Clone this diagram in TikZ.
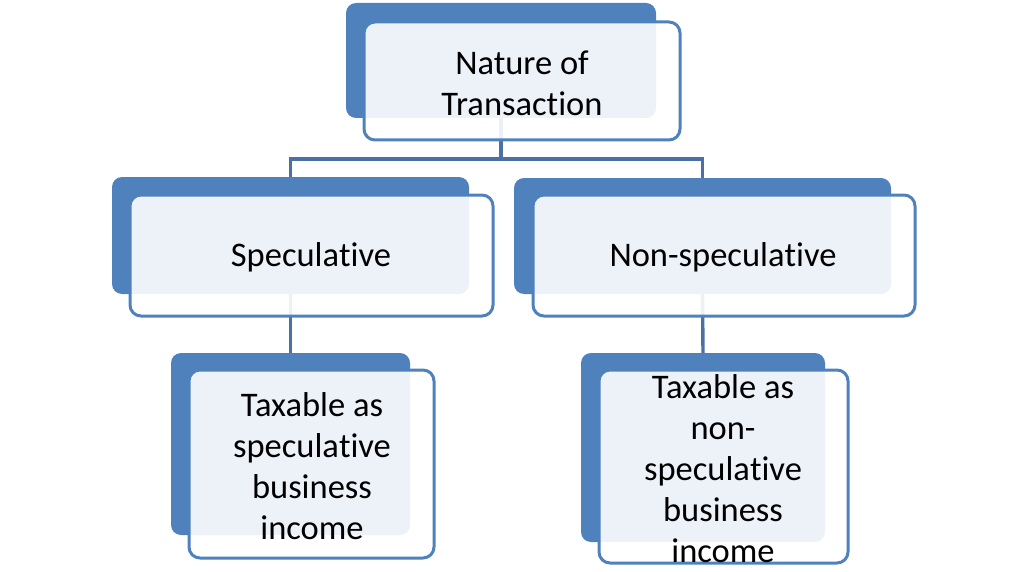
\documentclass[tikz,border=0pt]{standalone}
\usepackage{fontspec}
\setmainfont{Carlito}[Ligatures={NoCommon,NoRare,NoContextual}]
\definecolor{accent}{HTML}{4F81BD}
\definecolor{linkc}{HTML}{4A70A6}
\newcommand{\nl}{\kern0pt }
\begin{document}
\begin{tikzpicture}[x=1pt,y=-1pt,
  backbox/.style={rectangle, rounded corners=10pt, fill=accent, draw=none, inner sep=0pt},
  frontbox/.style={rectangle, rounded corners=11pt, fill=white, fill opacity=0.9, draw=accent, line width=3pt, inner sep=0pt},
  label/.style={align=center, font=\fontsize{34.5}{41}\selectfont},
  link/.style={draw=linkc, line width=3.4pt}]
\useasboundingbox (0,0) rectangle (1024,572);
% back boxes
\node[backbox, minimum width=310pt, minimum height=115pt] (topb) at (501,60.5) {};
\node[backbox, minimum width=357pt, minimum height=117pt] (specb) at (290.5,235.5) {};
\node[backbox, minimum width=377pt, minimum height=116pt] (nonb) at (702.5,236) {};
\node[backbox, minimum width=239pt, minimum height=182pt] (blb) at (290.5,444) {};
\node[backbox, minimum width=244pt, minimum height=189pt] (brb) at (703,447.5) {};
% connectors
\coordinate (mid) at (501,159);
\draw[link] (topb.south) -- (mid);
\draw[link] (mid) -| (specb.north);
\draw[link] (mid) -| (nonb.north);
\draw[link] (specb.south) -- (blb.north);
\draw[link] (nonb.south) -- (brb.north);
% front boxes
\node[frontbox, minimum width=316pt, minimum height=118pt] (topf) at (522,81) {};
\node[label] (topt) at (522,83) {Nature of\\Transac\nl tion};
\node[frontbox, minimum width=363pt, minimum height=121pt] (specf) at (311.5,255.5) {};
\node[label] (spect) at (311,257) {Specula\nl tive};
\node[frontbox, minimum width=382pt, minimum height=121pt] (nonf) at (724,255.5) {};
\node[label] (nont) at (723,257) {Non-specula\nl tive};
\node[frontbox, minimum width=245pt, minimum height=188pt] (blf) at (311.5,464) {};
\node[label] (blt) at (312,466) {Taxable as\\specula\nl tive\\business\\income};
\node[frontbox, minimum width=249pt, minimum height=193pt] (brf) at (723.5,466.5) {};
\node[label] (brt) at (723,469) {Taxable as\\non-\\specula\nl tive\\business\\income};
\end{tikzpicture}
\end{document}
